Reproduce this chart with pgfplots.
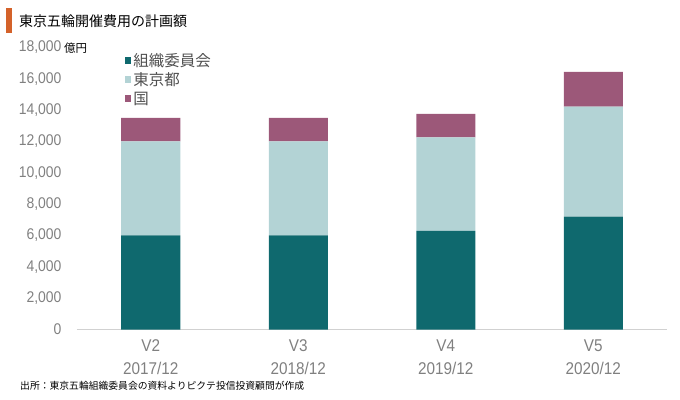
\documentclass[border=0pt]{standalone}
\usepackage{pgfplots}
\pgfplotsset{compat=1.18}
\usepackage{fontspec}
\setmainfont{Liberation Sans}[FakeStretch=0.9]
\newfontfamily\cjk{Noto Sans CJK JP}
\definecolor{orgc}{HTML}{0F696E}
\definecolor{tokc}{HTML}{B3D3D5}
\definecolor{natc}{HTML}{9C5879}
\definecolor{titlebar}{HTML}{D4622A}
\definecolor{tickgray}{HTML}{808080}
\definecolor{legtext}{HTML}{505050}
\begin{document}
\begin{tikzpicture}[x=1pt,y=1pt]
\useasboundingbox (0,0) rectangle (680,399);
\fill[titlebar] (6,391) rectangle (12,366);
\node[anchor=west,inner sep=0,font=\cjk\fontsize{14}{16}\selectfont] at (19,378) {東京五輪開催費用の計画額};
\node[anchor=west,inner sep=0,font=\cjk\fontsize{11.5}{13}\selectfont] at (64,351) {億円};
\node[anchor=west,inner sep=0,font=\cjk\fontsize{9.8}{12}\selectfont] at (20,13) {出所：東京五輪組織委員会の資料よりピクテ投信投資顧問が作成};
\begin{axis}[
  at={(77pt,69.5pt)}, anchor=south west,
  scale only axis, width=590pt, height=282pt,
  ybar stacked, bar width=59pt,
  xmin=-0.5, xmax=3.5, ymin=0, ymax=18000,
  xtick={0,1,2,3},
  xticklabels={{V2\\2017/12},{V3\\2018/12},{V4\\2019/12},{V5\\2020/12}},
  xticklabel style={align=center, font=\fontsize{17}{23}\selectfont, text=tickgray, yshift=-7pt},
  ytick={0,2000,...,18000},
  yticklabel style={font=\fontsize{15.5}{18}\selectfont, text=tickgray, xshift=-12pt},
  scaled y ticks=false,
  /pgf/number format/.cd, 1000 sep={,}, assume math mode=true, /pgfplots/.cd,
  major tick length=0pt,
  axis y line*=left,
  axis x line*=bottom,
  y axis line style={draw=none},
  x axis line style={draw=black!18, line width=0.8pt, -},
  legend style={draw=none, fill=none, at={(0.081,0.988)}, anchor=north west,
    font=\cjk\fontsize{15.5}{18}\selectfont, text=legtext, row sep=0.8pt, inner sep=0pt,
    cells={anchor=west}},
  legend cell align=left,
]
\addplot[fill=orgc, draw=none, legend image code/.code={\fill[orgc] (0pt,-3.2pt) rectangle (6.5pt,3.2pt);}] coordinates {(0,6000) (1,6000) (2,6300) (3,7210)};
\addplot[fill=tokc, draw=none, legend image code/.code={\fill[tokc] (0pt,-3.2pt) rectangle (6.5pt,3.2pt);}] coordinates {(0,6000) (1,6000) (2,5970) (3,7020)};
\addplot[fill=natc, draw=none, legend image code/.code={\fill[natc] (0pt,-3.2pt) rectangle (6.5pt,3.2pt);}] coordinates {(0,1500) (1,1500) (2,1500) (3,2210)};
\legend{組織委員会,東京都,国}
\end{axis}
\end{tikzpicture}
\end{document}
